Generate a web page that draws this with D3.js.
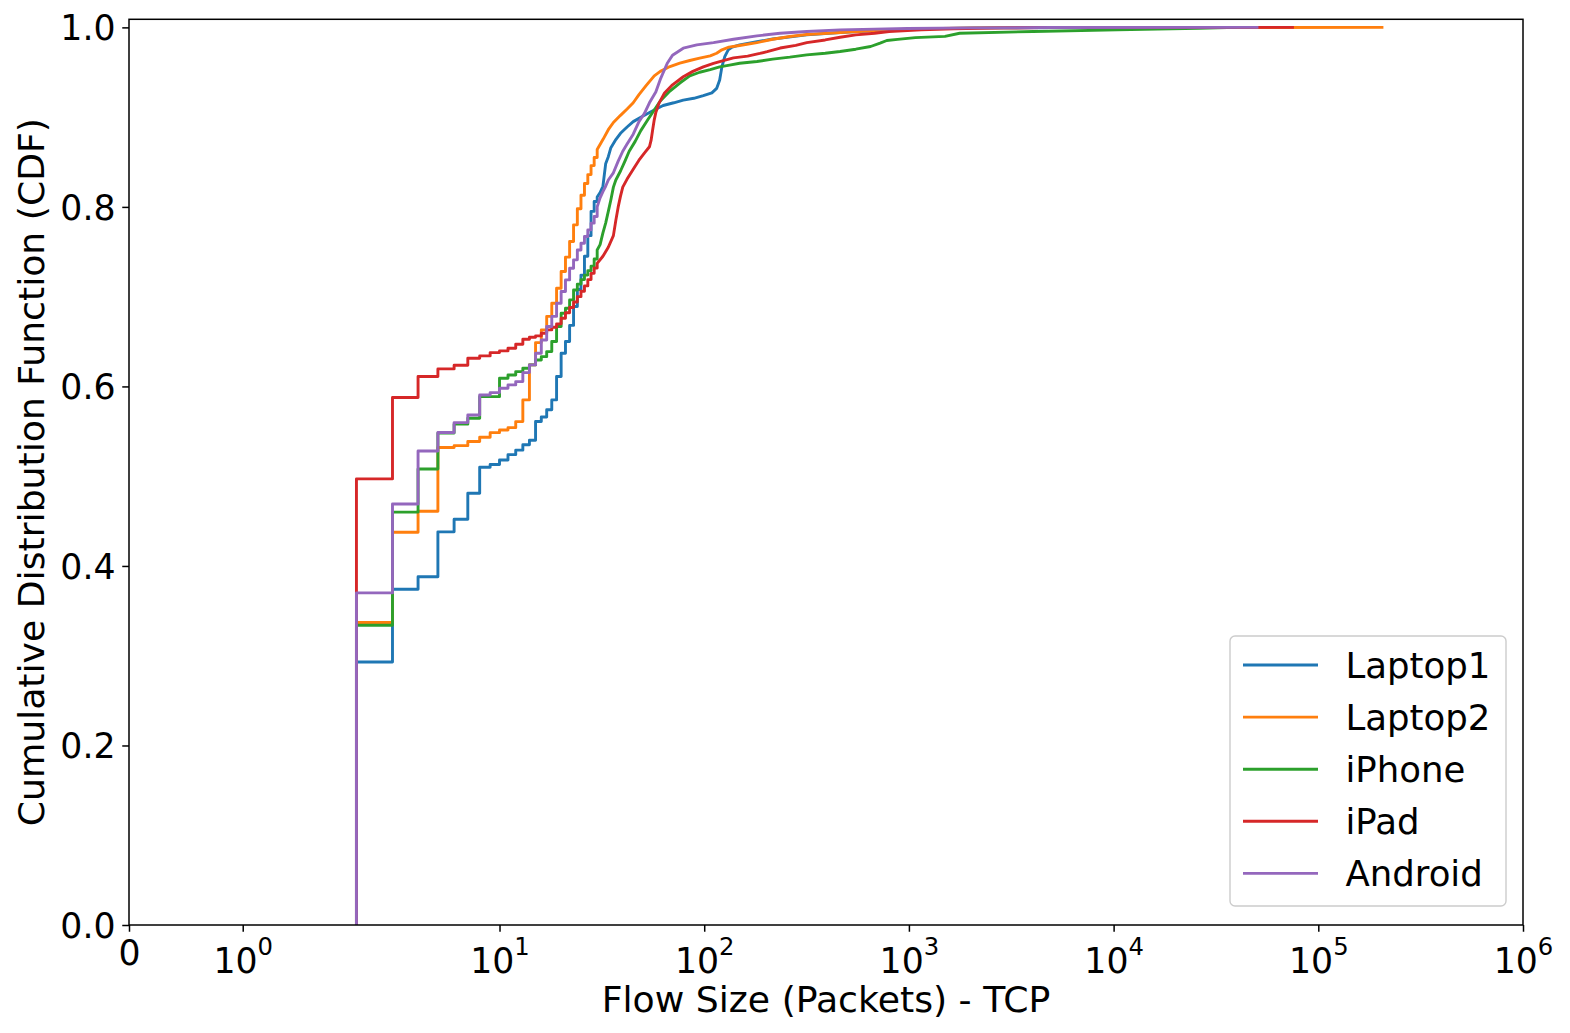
<!DOCTYPE html>
<html>
<head>
<meta charset="utf-8">
<script src="https://cdn.jsdelivr.net/npm/d3@7"></script>
<style>
  body { margin: 0; background: #fff; }
  svg { display: block; }
  text { font-family: "DejaVu Sans", sans-serif; }
</style>
</head>
<body>
<svg id="chart" width="1570" height="1033"></svg>
<script>
// packet counts where the CDF steps are still visible
var stepN = [2, 3, 4, 5, 6, 7, 8, 9, 10, 11, 12, 13, 14, 15, 16, 17, 18, 19, 20,
             21, 22, 23, 24, 25, 26, 27, 28, 29, 30];

var laptop1Steps = [0.293, 0.374, 0.388, 0.438, 0.452, 0.481, 0.510, 0.513, 0.518, 0.524,
                    0.529, 0.535, 0.540, 0.561, 0.566, 0.574, 0.585, 0.611, 0.637, 0.650,
                    0.668, 0.689, 0.708, 0.724, 0.745, 0.768, 0.795, 0.806, 0.811];
var laptop1TailX = [31, 32, 33, 34, 35, 37, 39, 42, 45, 50, 57, 63, 71, 79, 89, 99, 109, 115, 119, 122,
                    126, 131, 137, 149, 181, 216, 317, 461, 680, 990, 2100, 5000, 58000];
var laptop1TailY = [0.816, 0.823, 0.848, 0.856, 0.866, 0.875, 0.882, 0.889, 0.895, 0.901,
                    0.908, 0.913, 0.916, 0.919, 0.921, 0.924, 0.927, 0.932, 0.9415, 0.956,
                    0.9675, 0.975, 0.978, 0.9805, 0.984, 0.987, 0.9917, 0.9943, 0.9965, 0.998,
                    0.9994, 0.9998, 1.0];

var laptop2Steps = [0.337, 0.4375, 0.461, 0.532, 0.534, 0.5386, 0.5433, 0.5485, 0.5515, 0.5541,
                    0.5608, 0.585, 0.624, 0.6488, 0.663, 0.678, 0.6926, 0.7094, 0.728, 0.744,
                    0.7614, 0.780, 0.798, 0.813, 0.826, 0.836, 0.846, 0.855, 0.864];
var laptop2TailX = [32, 34, 36, 39, 42, 45, 48, 52, 57, 61, 68, 76, 85, 95, 107, 115, 122, 132, 149, 181,
                    216, 262, 317, 461, 680, 990, 1450, 2100, 4400, 208000];
var laptop2TailY = [0.875, 0.886, 0.894, 0.902, 0.909, 0.916, 0.925, 0.935, 0.946, 0.951,
                    0.9564, 0.9601, 0.9631, 0.9657, 0.9683, 0.9712, 0.975, 0.978, 0.9798, 0.983,
                    0.9868, 0.9898, 0.992, 0.9943, 0.9965, 0.998, 0.9987, 0.9994, 0.9998, 1.0];

var iphoneSteps = [0.334, 0.460, 0.508, 0.548, 0.558, 0.5645, 0.5886, 0.5886, 0.6091, 0.6128,
                   0.6165, 0.6202, 0.624, 0.6295, 0.6332, 0.6388, 0.650, 0.6667, 0.6815, 0.6871,
                   0.6964, 0.7075, 0.714, 0.719, 0.724, 0.729, 0.734, 0.742, 0.752];
var iphoneTailX = [31, 32, 33, 34, 35, 36, 37, 39, 41, 43, 46, 49, 53, 57, 61, 68, 76, 85, 95, 107,
                   119, 133, 149, 181, 216, 262, 317, 390, 461, 550, 650, 723, 780, 880, 1075, 1500,
                   1770, 4045, 10400, 26000, 40000];
var iphoneTailY = [0.758, 0.771, 0.782, 0.795, 0.808, 0.822, 0.830, 0.840, 0.851, 0.862,
                   0.873, 0.885, 0.897, 0.908, 0.918, 0.929, 0.938, 0.946, 0.950, 0.953,
                   0.956, 0.958, 0.960, 0.962, 0.9646, 0.9668, 0.9694, 0.9712, 0.9731, 0.9757,
                   0.9787, 0.9824, 0.9854, 0.9866, 0.9886, 0.990, 0.9935, 0.9954, 0.9972, 0.999, 1.0];

var ipadSteps = [0.497, 0.5876, 0.611, 0.6195, 0.6236, 0.6314, 0.634, 0.6377, 0.6396, 0.6425,
                 0.647, 0.6526, 0.6548, 0.6563, 0.6593, 0.663, 0.666, 0.6697, 0.676, 0.682,
                 0.688, 0.694, 0.700, 0.706, 0.712, 0.719, 0.726, 0.732, 0.737];
var ipadTailX = [32, 34, 36, 37, 38, 39, 40, 42, 45, 48, 51, 54, 55, 56, 57, 58, 60, 64, 70, 79,
                 88, 99, 111, 124, 139, 163, 187, 203, 235, 280, 317, 390, 461, 550, 680, 800,
                 1150, 1650, 2900, 4400, 76000];
var ipadTailY = [0.745, 0.755, 0.768, 0.785, 0.800, 0.812, 0.822, 0.831, 0.842, 0.852,
                 0.860, 0.867, 0.874, 0.886, 0.897, 0.905, 0.915, 0.927, 0.936, 0.945,
                 0.951, 0.956, 0.960, 0.963, 0.966, 0.968, 0.971, 0.973, 0.977, 0.980,
                 0.983, 0.986, 0.989, 0.9917, 0.9935, 0.9954, 0.9972, 0.9983, 0.9994, 0.9998, 1.0];

var androidSteps = [0.370, 0.469, 0.528, 0.5486, 0.5597, 0.5682, 0.5905, 0.5931, 0.598, 0.6017,
                    0.6054, 0.6154, 0.624, 0.637, 0.6518, 0.6667, 0.678, 0.6926, 0.7057, 0.7187,
                    0.7316, 0.741, 0.752, 0.7595, 0.767, 0.7744, 0.7819, 0.7893, 0.800];
var androidTailX = [31, 32, 33, 34, 36, 38, 40, 42, 45, 48, 51, 54, 58, 61, 66, 70, 79, 92, 111, 139,
                    181, 235, 317, 461, 680, 990, 2000, 5000, 51000];
var androidTailY = [0.81, 0.817, 0.823, 0.830, 0.838, 0.851, 0.862, 0.870, 0.881, 0.895,
                    0.904, 0.916, 0.928, 0.942, 0.960, 0.969, 0.9768, 0.9805, 0.983, 0.9868,
                    0.9905, 0.9935, 0.9954, 0.9972, 0.998, 0.9987, 0.9994, 0.9998, 1.0];

var seriesNames = ["Laptop1", "Laptop2", "iPhone", "iPad", "Android"];
var seriesColors = ["#1f77b4", "#ff7f0e", "#2ca02c", "#d62728", "#9467bd"];

var xTickValues = [0, 1, 10, 100, 1000, 10000, 100000, 1000000];
var xTickExps = [null, "0", "1", "2", "3", "4", "5", "6"];
var yTickValues = [0, 0.2, 0.4, 0.6, 0.8, 1.0];

// matplotlib symlog, linthresh 2, linscale 1
var linthresh = 2, linAdj = 1 / (1 - 1 / 10);
function symlog(v) {
    var a = Math.abs(v);
    if (a <= linthresh) return v * linAdj;
    return Math.sign(v) * linthresh * (linAdj + Math.log10(a / linthresh));
}

var FS = 34.7, LABEL_FS = 36.2, LEGEND_FS = 35.5;
var plotL = 129, plotR = 1523, plotT = 19.3, plotB = 925;

var svg = d3.select("#chart");

var xLin = d3.scaleLinear().domain([symlog(0), symlog(1e6)]).range([plotL, plotR]);
var y = d3.scaleLinear().domain([0, 1.009]).range([plotB, plotT]);
function X(v) { return xLin(symlog(v)); }

svg.append("defs").append("clipPath").attr("id", "plotclip")
    .append("rect").attr("x", plotL).attr("y", plotT)
    .attr("width", plotR - plotL).attr("height", plotB - plotT);

// build step-post points then smooth tail
function buildPoints(steps, tailX, tailY) {
    var pts = [[stepN[0], 0]];
    stepN.forEach(function(n, i) {
        if (i > 0) pts.push([n, steps[i - 1]]);
        pts.push([n, steps[i]]);
    });
    tailX.forEach(function(t, i) { pts.push([t, tailY[i]]); });
    return pts;
}

var series = [
    buildPoints(laptop1Steps, laptop1TailX, laptop1TailY),
    buildPoints(laptop2Steps, laptop2TailX, laptop2TailY),
    buildPoints(iphoneSteps, iphoneTailX, iphoneTailY),
    buildPoints(ipadSteps, ipadTailX, ipadTailY),
    buildPoints(androidSteps, androidTailX, androidTailY)
];

var line = d3.line()
    .x(function(d) { return X(d[0]); })
    .y(function(d) { return y(d[1]); });

svg.append("g").attr("clip-path", "url(#plotclip)")
    .selectAll("path")
    .data(series)
    .enter().append("path")
    .attr("d", line)
    .attr("fill", "none")
    .attr("stroke", function(d, i) { return seriesColors[i]; })
    .attr("stroke-width", 2.9)
    .attr("stroke-linejoin", "round");

// x axis
var xAxis = svg.append("g")
    .attr("transform", "translate(0," + plotB + ")")
    .call(d3.axisBottom(xLin)
        .tickValues(xTickValues.map(symlog))
        .tickSizeInner(6.75).tickSizeOuter(0).tickPadding(6.75));
xAxis.select(".domain").remove();
xAxis.selectAll(".tick line").attr("stroke", "#000").attr("stroke-width", 1.5);
xAxis.selectAll(".tick text").each(function(d, i) {
    var t = d3.select(this).text("").attr("fill", "#000")
        .attr("font-size", FS).attr("dy", null);
    if (xTickExps[i] === null) {
        t.attr("y", 40.3).text("0");
    } else {
        t.attr("y", 48.3);
        t.append("tspan").text("10");
        t.append("tspan").attr("dy", -18.6).attr("font-size", FS * 0.7).text(xTickExps[i]);
    }
});

// y axis
var yAxis = svg.append("g")
    .attr("transform", "translate(" + plotL + ",0)")
    .call(d3.axisLeft(y)
        .tickValues(yTickValues)
        .tickFormat(d3.format(".1f"))
        .tickSizeInner(6.75).tickSizeOuter(0).tickPadding(6.75));
yAxis.select(".domain").remove();
yAxis.selectAll(".tick line").attr("stroke", "#000").attr("stroke-width", 1.5);
yAxis.selectAll(".tick text").attr("fill", "#000").attr("font-size", FS).attr("dy", "0.36em");

// frame
svg.append("rect")
    .attr("x", plotL).attr("y", plotT)
    .attr("width", plotR - plotL).attr("height", plotB - plotT)
    .attr("fill", "none").attr("stroke", "#000").attr("stroke-width", 1.5);

// axis labels
svg.append("text")
    .attr("x", (plotL + plotR) / 2).attr("y", 1012)
    .attr("text-anchor", "middle").attr("font-size", LABEL_FS)
    .text("Flow Size (Packets) - TCP");

svg.append("text")
    .attr("transform", "translate(43.5," + ((plotT + plotB) / 2) + ") rotate(-90)")
    .attr("text-anchor", "middle").attr("font-size", LABEL_FS)
    .text("Cumulative Distribution Function (CDF)");

// legend
var legend = svg.append("g");
legend.append("rect")
    .attr("x", 1230).attr("y", 636).attr("width", 276).attr("height", 270)
    .attr("rx", 5).attr("fill", "#fff").attr("fill-opacity", 0.8)
    .attr("stroke", "#cccccc").attr("stroke-width", 1.4);

var rows = legend.selectAll("g.row")
    .data(seriesNames)
    .enter().append("g")
    .attr("class", "row")
    .attr("transform", function(d, i) { return "translate(0," + (665 + i * 52.1) + ")"; });
rows.append("line")
    .attr("x1", 1243).attr("x2", 1318)
    .attr("stroke", function(d, i) { return seriesColors[i]; })
    .attr("stroke-width", 2.9);
rows.append("text")
    .attr("x", 1345.5).attr("y", 13)
    .attr("font-size", LEGEND_FS)
    .text(function(d) { return d; });
</script>
</body>
</html>
